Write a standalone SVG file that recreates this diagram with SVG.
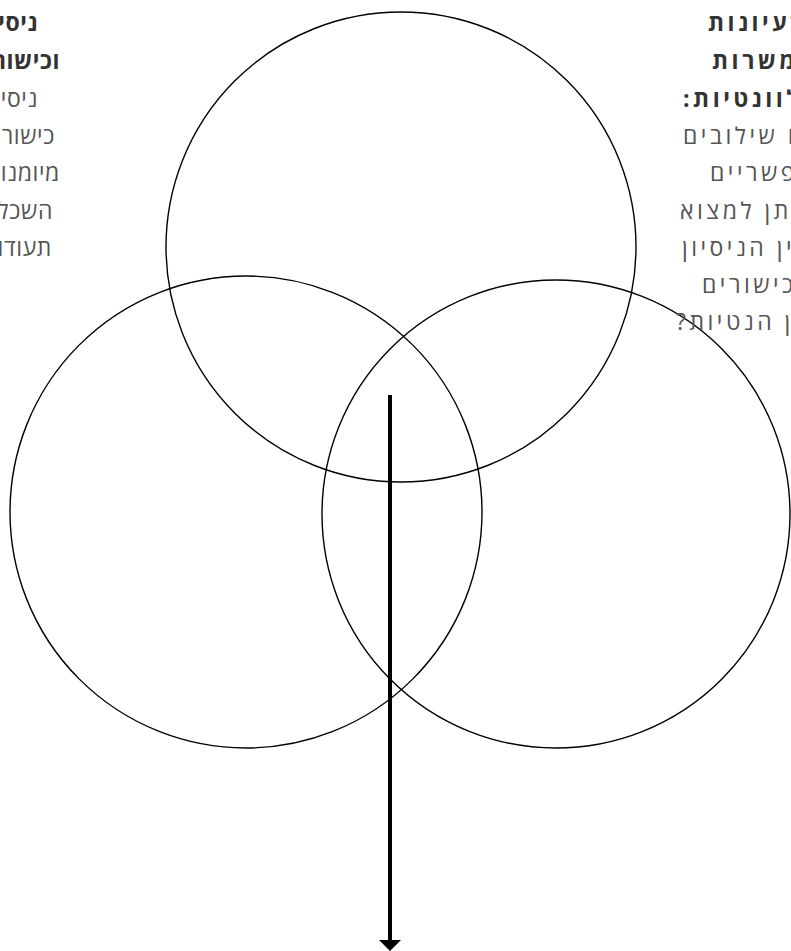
<svg xmlns="http://www.w3.org/2000/svg" width="791" height="951" viewBox="0 0 791 951">
<style>
.c{fill:none;stroke:#000;stroke-width:1.4}
.t{font-family:"Open Sans","Noto Sans","DejaVu Sans",sans-serif;font-size:23px;letter-spacing:0.6px;fill:#555}
.r{letter-spacing:3.5px}
.b{font-weight:bold;fill:#333}
</style>
<rect width="791" height="951" fill="#fff"/>
<g id="circle-top"><circle class="c" cx="401" cy="247" r="235"/></g>
<g id="circle-left"><circle class="c" cx="246" cy="512" r="236"/></g>
<g id="circle-right"><circle class="c" cx="556" cy="514" r="234"/></g>
<g id="text-left" class="t" direction="rtl" text-anchor="start">
<text class="t b" x="38" y="31">ניסיון</text>
<text class="t b" x="60" y="69">וכישורים</text>
<text class="t" x="38" y="107">ניסיון</text>
<text class="t" x="55" y="144">כישורים</text>
<text class="t" x="60" y="181">מיומנויות</text>
<text class="t" x="53" y="219">השכלה</text>
<text class="t" x="52" y="256">תעודות</text>
</g>
<g id="text-right" class="t" direction="rtl" text-anchor="end">
<text class="t r b" x="708" y="31">רעיונות</text>
<text class="t r b" x="712" y="69">למשרות</text>
<text class="t r b" x="683" y="107">רלוונטיות:</text>
<text class="t r" x="683" y="144">אילו שילובים</text>
<text class="t r" x="710" y="181">אפשריים</text>
<text class="t r" x="680" y="219">ניתן למצוא</text>
<text class="t r" x="682" y="256">בין הניסיון</text>
<text class="t r" x="702" y="293">והכישורים</text>
<text class="t r" x="676" y="330">לבין הנטיות?</text>
</g>
<g id="connectors">
<line x1="390" y1="395" x2="390" y2="944" stroke="#000" stroke-width="4"/>
<polygon points="379,940 401,940 390,951" fill="#000"/>
</g>
</svg>
